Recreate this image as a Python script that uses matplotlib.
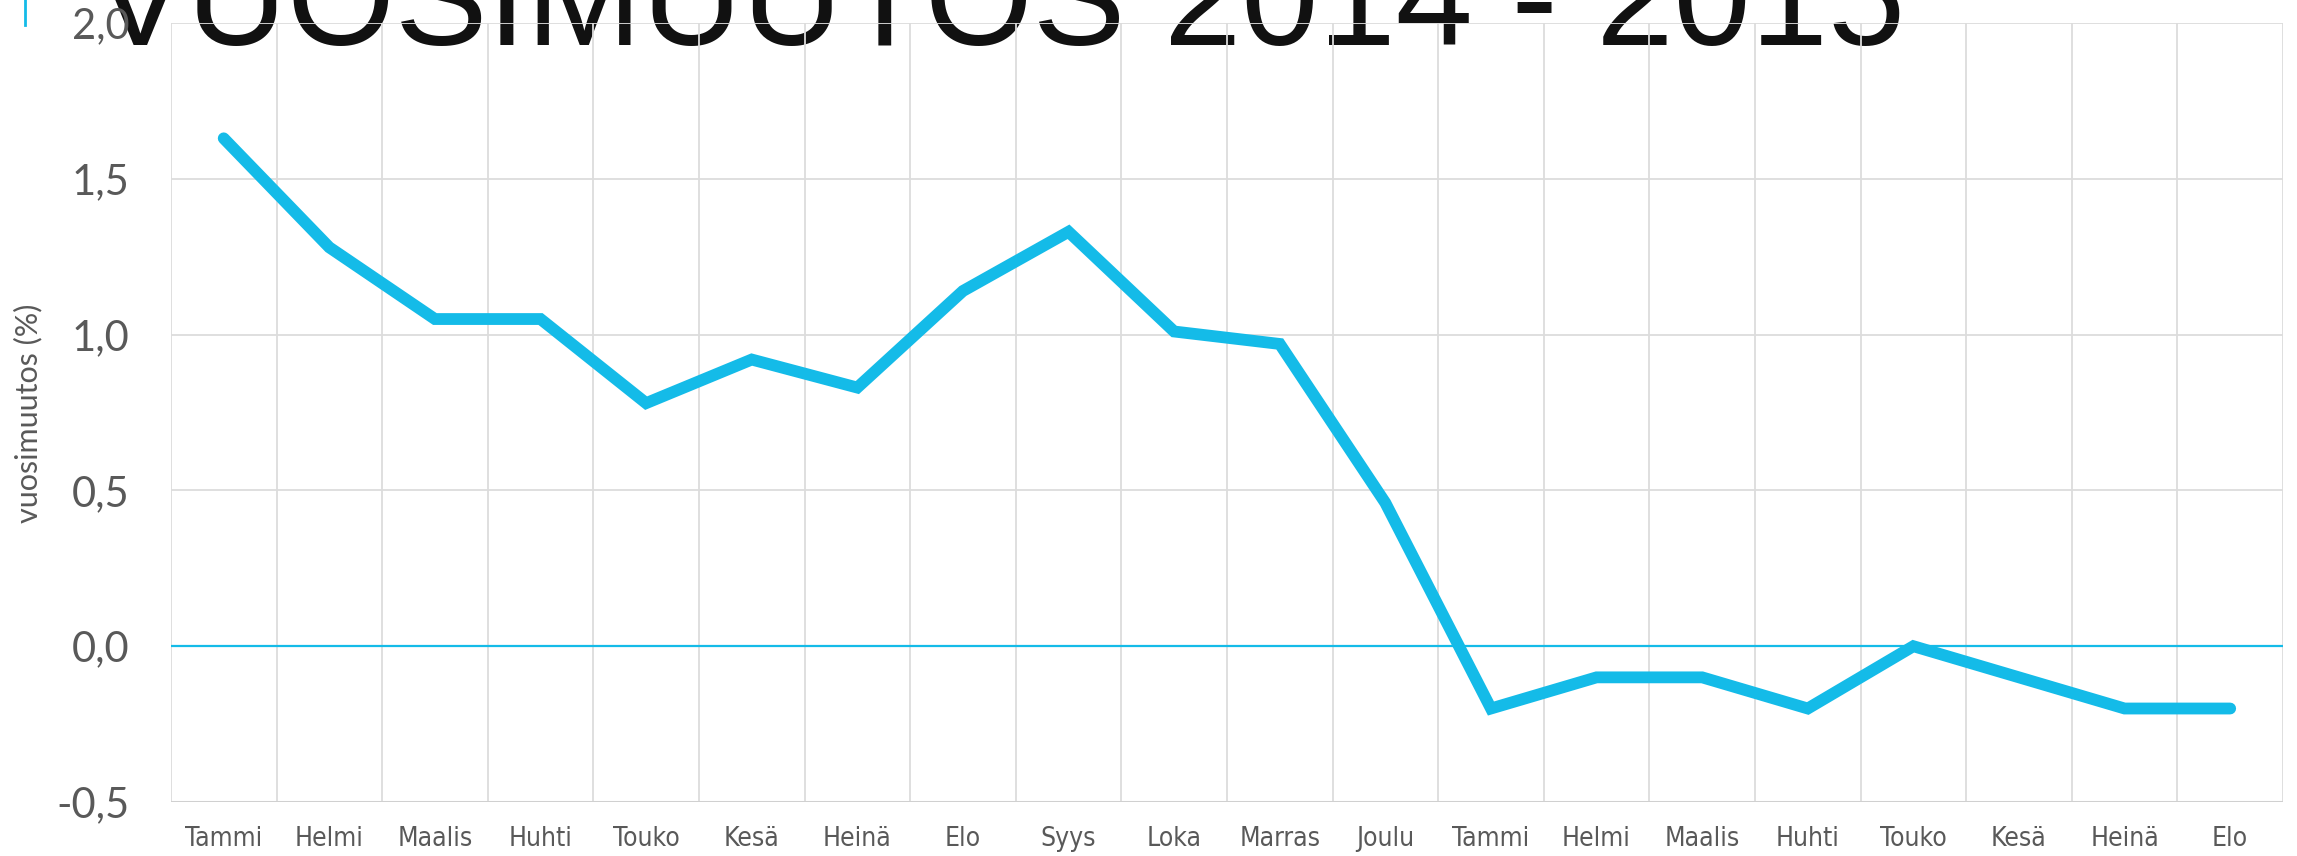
import matplotlib.pyplot as plt
from matplotlib.lines import Line2D

months = ['Tammi', 'Helmi', 'Maalis', 'Huhti', 'Touko', 'Kesä', 'Heinä', 'Elo',
          'Syys', 'Loka', 'Marras', 'Joulu',
          'Tammi', 'Helmi', 'Maalis', 'Huhti', 'Touko', 'Kesä', 'Heinä', 'Elo']
change = [1.63, 1.28, 1.05, 1.05, 0.78, 0.92, 0.83, 1.14, 1.33, 1.01, 0.97, 0.46,
          -0.20, -0.10, -0.10, -0.20, 0.00, -0.10, -0.20, -0.20]
yticks = [-0.5, 0.0, 0.5, 1.0, 1.5, 2.0]
ytick_labels = ['-0,5', '0,0', '0,5', '1,0', '1,5', '2,0']

cyan = '#14BBE8'
grid = '#DCDCDC'
grey = '#595959'

fig = plt.figure(figsize=(22.97, 8.56), dpi=100)
ax = fig.add_axes([0.0744, 0.0631, 0.9195, 0.91])
ax.set_facecolor('none')

# big title sits behind the grid, partly cut off at the top
fig.text(0.041, 0.9474, 'VUOSIMUUTOS 2014 - 2015', fontsize=100, color='#111111',
         family='Liberation Sans', va='baseline', ha='left', zorder=-1)
fig.add_artist(Line2D([25/2297, 25/2297], [1.0, 1 - 25/856], color=cyan, lw=2))

x = list(range(len(months)))
ax.plot(x, change, color=cyan, lw=8.5, solid_joinstyle='miter',
        solid_capstyle='round', zorder=4)
ax.axhline(0, color=cyan, lw=1.6, zorder=3)

ax.set_xlim(-0.5, len(months) - 0.5)
ax.set_ylim(-0.5, 2.0)
ax.set_xticks(x)
ax.set_xticklabels(months, family='DejaVu Sans', fontstretch='condensed',
                   fontsize=19, color=grey)
ax.set_yticks(yticks)
ax.set_yticklabels(ytick_labels, family='Lato', fontsize=30, color=grey)
ax.tick_params(axis='x', length=0, pad=17)
ax.tick_params(axis='y', length=0, pad=30)

for b in range(len(months) + 1):
    ax.axvline(b - 0.5, color=grid, lw=1.3, zorder=1)
for t in yticks:
    ax.axhline(t, color=grid, lw=1.3, zorder=1)
for s in ax.spines.values():
    s.set_visible(False)
ax.axhline(-0.5, color='#D0D0D0', lw=2.2, zorder=2)

fig.text(28/2297, 0.5175, 'vuosimuutos (%)', rotation=90, family='Lato',
         fontsize=22, color=grey, ha='center', va='center')

fig.savefig('out.png', dpi=100)
